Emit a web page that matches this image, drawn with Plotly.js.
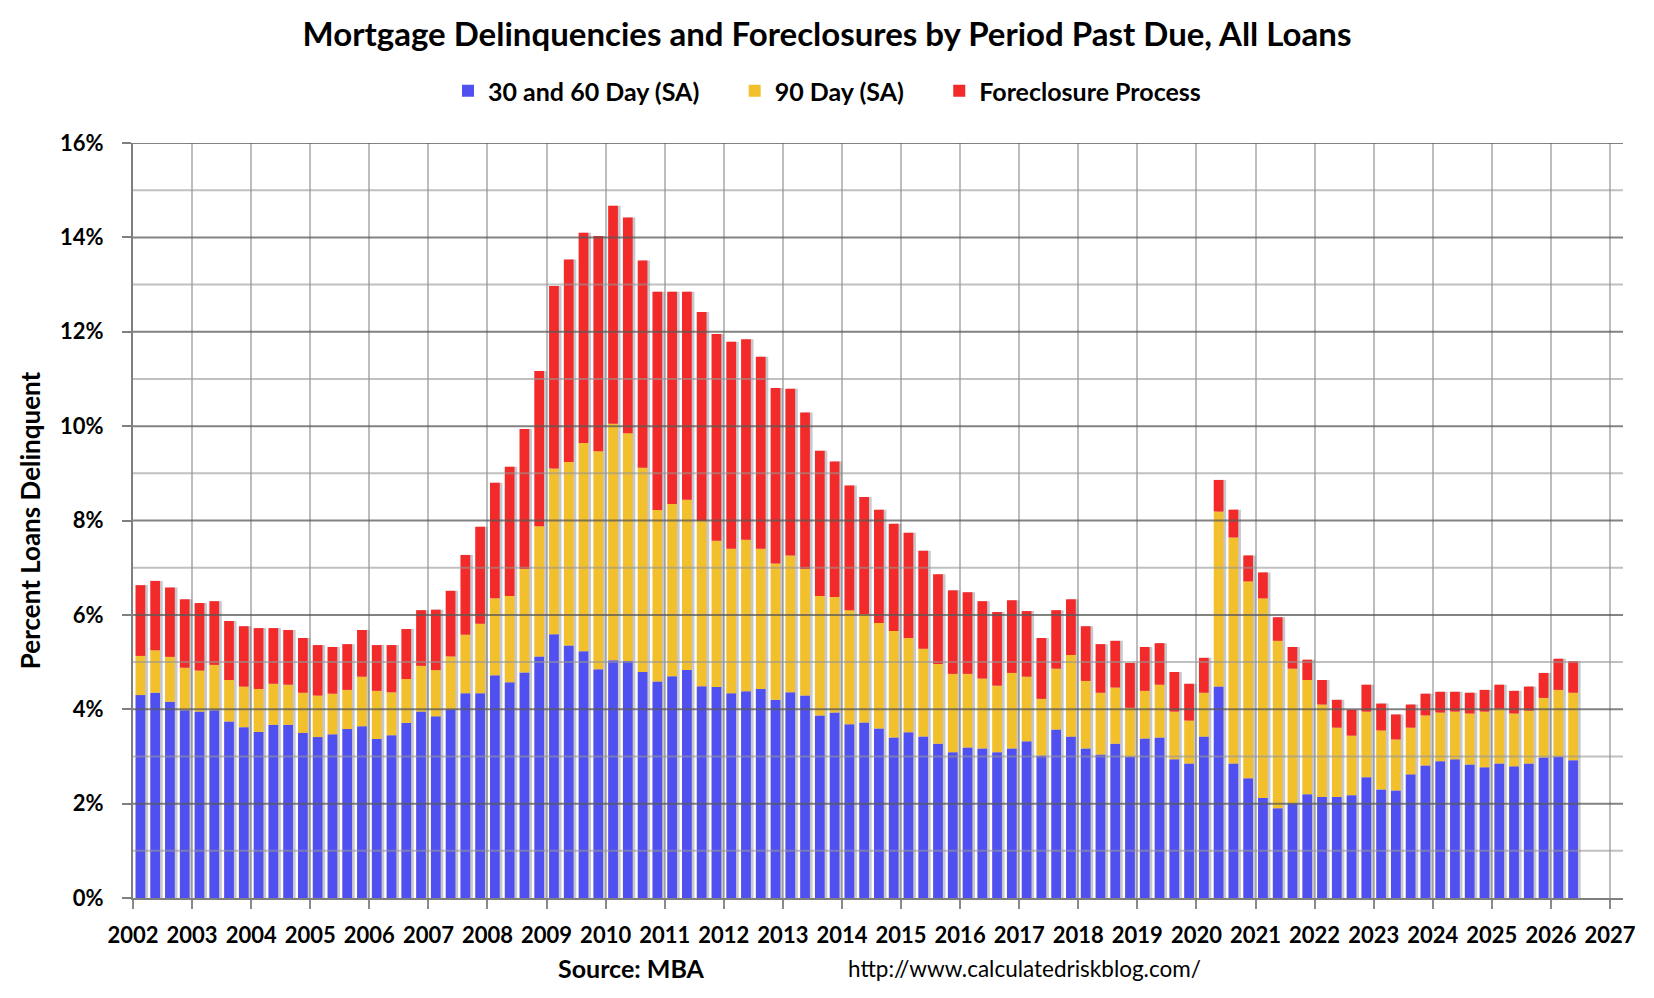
<!DOCTYPE html>
<html>
<head>
<meta charset="utf-8">
<script src="https://cdn.plot.ly/plotly-3.0.1.min.js"></script>
<style>
  html, body { margin: 0; padding: 0; background: #fff; }
  #chart { width: 1654px; height: 998px; }
</style>
</head>
<body>
<div id="chart"></div>
<script>
/*
 Data, quarterly from 2002 Q1, percent of loans
*/

var start_year = 2002;

var day30_60 = [
  4.30, 4.35, 4.16, 3.98, 3.95, 3.98, 3.74, 3.62, 3.52, 3.67, 3.67, 3.50,
  3.41, 3.47, 3.58, 3.64, 3.37, 3.45, 3.71, 3.95, 3.85, 4.00, 4.34, 4.34,
  4.72, 4.57, 4.78, 5.12, 5.59, 5.35, 5.23, 4.85, 5.04, 5.02, 4.79, 4.59,
  4.70, 4.83, 4.49, 4.47, 4.34, 4.38, 4.43, 4.20, 4.36, 4.29, 3.87, 3.93,
  3.68, 3.72, 3.59, 3.40, 3.51, 3.42, 3.27, 3.09, 3.19, 3.17, 3.09, 3.17,
  3.32, 3.02, 3.57, 3.42, 3.17, 3.04, 3.27, 3.00, 3.38, 3.40, 2.94, 2.85,
  3.42, 4.48, 2.85, 2.54, 2.12, 1.90, 2.01, 2.20, 2.14, 2.14, 2.18, 2.56,
  2.30, 2.28, 2.62, 2.81, 2.90, 2.94, 2.83, 2.77, 2.85, 2.79, 2.85, 2.98,
  3.00, 2.92
];

var day90 = [
  0.83, 0.90, 0.95, 0.90, 0.87, 0.96, 0.88, 0.86, 0.91, 0.87, 0.85, 0.85,
  0.88, 0.86, 0.83, 1.05, 1.02, 0.91, 0.93, 0.97, 0.98, 1.12, 1.24, 1.47,
  1.63, 1.83, 2.19, 2.76, 3.51, 3.89, 4.41, 4.62, 5.01, 4.83, 4.33, 3.63,
  3.65, 3.61, 3.50, 3.10, 3.06, 3.21, 2.97, 2.89, 2.90, 2.68, 2.53, 2.45,
  2.42, 2.30, 2.24, 2.26, 2.00, 1.86, 1.69, 1.66, 1.56, 1.48, 1.41, 1.60,
  1.37, 1.20, 1.29, 1.73, 1.43, 1.31, 1.19, 1.03, 1.01, 1.12, 1.01, 0.91,
  0.93, 3.71, 4.79, 4.17, 4.23, 3.55, 2.85, 2.42, 1.96, 1.47, 1.26, 1.39,
  1.25, 1.08, 0.99, 1.06, 1.03, 1.01, 1.08, 1.18, 1.16, 1.12, 1.12, 1.26,
  1.41, 1.43
];

var foreclosure = [
  1.50, 1.47, 1.47, 1.45, 1.43, 1.35, 1.25, 1.28, 1.29, 1.18, 1.16, 1.16,
  1.07, 0.99, 0.97, 0.99, 0.97, 1.00, 1.06, 1.18, 1.28, 1.39, 1.69, 2.06,
  2.45, 2.74, 2.97, 3.29, 3.87, 4.29, 4.46, 4.56, 4.62, 4.57, 4.39, 4.63,
  4.50, 4.41, 4.43, 4.38, 4.39, 4.25, 4.07, 3.72, 3.53, 3.32, 3.08, 2.87,
  2.64, 2.48, 2.40, 2.27, 2.23, 2.08, 1.90, 1.77, 1.73, 1.64, 1.56, 1.54,
  1.39, 1.29, 1.24, 1.18, 1.16, 1.03, 0.99, 0.95, 0.93, 0.88, 0.84, 0.78,
  0.74, 0.67, 0.59, 0.55, 0.55, 0.50, 0.46, 0.43, 0.52, 0.59, 0.55, 0.57,
  0.57, 0.53, 0.49, 0.46, 0.44, 0.42, 0.44, 0.46, 0.51, 0.48, 0.51, 0.53,
  0.66, 0.67
];

var series_names = ["30 and 60 Day (SA)", "90 Day (SA)", "Foreclosure Process"];
var series_colors = ["#5050F0", "#F2C02C", "#F32A2A"];
var y_ticks = [0, 2, 4, 6, 8, 10, 12, 14, 16];
var y_labels = y_ticks.map(function(v) { return v + "%"; });

/*
 Positions and stacking
*/

var x = day30_60.map(function(v, i) { return start_year + (i + 0.5) / 4; });
var base90 = day30_60.slice();
var baseFc = day30_60.map(function(v, i) { return v + day90[i]; });
var total = baseFc.map(function(v, i) { return v + foreclosure[i]; });

var bar_w = 0.165;
var font = "Lato, 'Open Sans', sans-serif";
var pad = "\u00a0\u00a0\u00a0\u00a0\u00a0"; // wider gap between legend entries

var shadow = {
  x: x, y: total, base: 0, type: "bar",
  width: bar_w, offset: -bar_w / 2 + 0.045,
  marker: {color: "rgba(70,70,90,0.30)"},
  showlegend: false, hoverinfo: "skip"
};

var trace1 = {
  x: x, y: day30_60, base: 0, type: "bar", name: series_names[0] + pad,
  width: bar_w, marker: {color: series_colors[0]}
};
var trace2 = {
  x: x, y: day90, base: base90, type: "bar", name: series_names[1] + pad,
  width: bar_w, marker: {color: series_colors[1]}
};
var trace3 = {
  x: x, y: foreclosure, base: baseFc, type: "bar", name: series_names[2],
  width: bar_w, marker: {color: series_colors[2]}
};

// horizontal grid drawn over the bars, like the original
var shapes = [];
for (var g = 1; g <= 16; g++) {
  shapes.push({
    type: "line", xref: "paper", x0: 0, x1: 1, yref: "y", y0: g, y1: g,
    layer: "above",
    line: {color: g % 2 === 0 ? "rgba(90,90,90,0.75)" : "rgba(150,150,150,0.6)", width: 2}
  });
}

var layout = {
  width: 1654,
  height: 998,
  barmode: "overlay",
  margin: {l: 133, r: 31, t: 143, b: 100},
  plot_bgcolor: "#fff",
  paper_bgcolor: "#fff",
  font: {family: font, color: "#000"},
  title: {
    text: "Mortgage Delinquencies and Foreclosures by Period Past Due, All Loans",
    x: 0.5, xref: "container", y: 1 - 34 / 998, yref: "container", yanchor: "middle",
    font: {family: font, size: 33, weight: 700, color: "#000"}
  },
  showlegend: true,
  legend: {
    orientation: "h", x: 0.5, xref: "container", xanchor: "center",
    y: 1 - 91 / 998, yref: "container", yanchor: "middle",
    font: {family: font, size: 25, weight: 700, color: "#000"},
    traceorder: "normal"
  },
  xaxis: {
    range: [2002, 2027.22],
    tickmode: "linear", tick0: 2002, dtick: 1, tickformat: "d",
    ticks: "outside", ticklen: 9, tickwidth: 2, tickcolor: "#8a8a8a",
    ticklabelstandoff: 8,
    showgrid: true, gridcolor: "#bdbdbd", gridwidth: 2,
    showline: true, linecolor: "#7f7f7f", linewidth: 2,
    zeroline: false,
    tickfont: {family: font, size: 22, weight: 700, color: "#000"}
  },
  yaxis: {
    range: [0, 16],
    tickmode: "array", tickvals: y_ticks, ticktext: y_labels,
    ticks: "outside", ticklen: 9, tickwidth: 2, tickcolor: "#7f7f7f",
    ticklabelstandoff: 14,
    showgrid: false, zeroline: false,
    showline: true, linecolor: "#7f7f7f", linewidth: 2,
    tickfont: {family: font, size: 22, weight: 700, color: "#000"},
    title: {
      text: "Percent Loans Delinquent", standoff: 12,
      font: {family: font, size: 26, weight: 700, color: "#000"}
    }
  },
  shapes: shapes,
  annotations: [
    {
      text: "Source: MBA", xref: "paper", yref: "paper",
      x: (631 - 133) / 1490, y: -70 / 755, xanchor: "center", yanchor: "middle",
      showarrow: false, font: {family: font, size: 25, weight: 700, color: "#000"}
    },
    {
      text: "http://www.calculatedriskblog.com/", xref: "paper", yref: "paper",
      x: (846 - 133) / 1490, y: -70 / 755, xanchor: "left", yanchor: "middle",
      showarrow: false, font: {family: font, size: 22.5, color: "#000"}
    }
  ]
};

var config = {
  displayModeBar: false
};

Plotly.newPlot("chart", [shadow, trace1, trace2, trace3], layout, config);
</script>
</body>
</html>
